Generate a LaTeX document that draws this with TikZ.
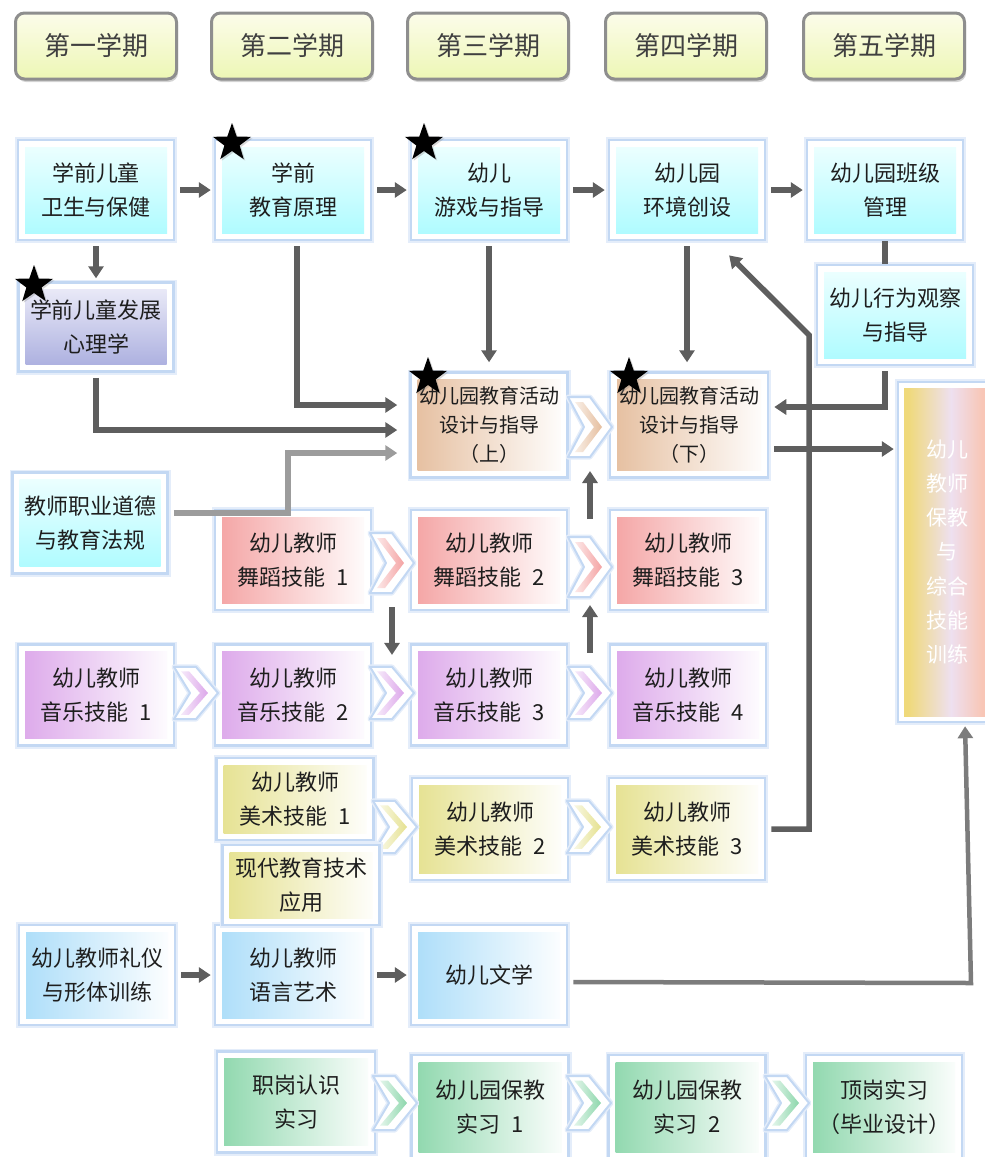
\documentclass[tikz,border=0pt]{standalone}
\usepackage{fontspec}
\newfontfamily\cjk{Noto Sans CJK SC}
\usetikzlibrary{arrows.meta,shapes.geometric,shadows}

\definecolor{glow}{HTML}{C3D8F3}
\definecolor{arrowgray}{HTML}{5E5E5E}
\definecolor{lightarrow}{HTML}{9C9C9C}
\definecolor{litgray}{HTML}{7C7C7C}
\definecolor{hdrline}{HTML}{8E8E8E}
\definecolor{hdrtop}{HTML}{FCFCEA}
\definecolor{hdrbot}{HTML}{EDF7B5}
\definecolor{cyantop}{HTML}{F0FFFF}
\definecolor{cyanbot}{HTML}{ABFBFF}
\definecolor{psytop}{HTML}{EEEEF9}
\definecolor{psybot}{HTML}{A8ACDE}
\definecolor{actcol}{HTML}{E5BE9E}
\definecolor{dancecol}{HTML}{F4A3A3}
\definecolor{musiccol}{HTML}{DCA7EA}
\definecolor{artcol}{HTML}{E5E18F}
\definecolor{langcol}{HTML}{ABDDF9}
\definecolor{praccol}{HTML}{8DD7AC}
\definecolor{barY}{HTML}{EFD97A}
\definecolor{barL}{HTML}{EEE0F0}
\definecolor{barP}{HTML}{F8C6B6}
\definecolor{txt}{HTML}{1E1E1E}

\pgfdeclarehorizontalshading{barshade}{100bp}{color(0bp)=(barY); color(30bp)=(barY); color(52bp)=(barL); color(68bp)=(barP); color(100bp)=(barP)}

\tikzset{
  course/.style={draw=glow, line width=2.5pt, fill=white, inner sep=0pt,
    minimum width=156pt, minimum height=100pt, align=center, text=txt,
    font=\cjk\fontsize{22}{34}\selectfont,
    drop shadow={shadow xshift=1.5pt, shadow yshift=-3pt, opacity=.35},
    preaction={draw=glow!45, line width=6pt}},
  hcourse/.style={course, path picture={\shade[left color=#1, right color=white]
    ([shift={(7pt,-7pt)}]path picture bounding box.north west) rectangle
    ([shift={(-7pt,7pt)}]path picture bounding box.south east);}},
  vcourse/.style 2 args={course, path picture={\shade[top color=#1, bottom color=#2]
    ([shift={(7pt,-7pt)}]path picture bounding box.north west) rectangle
    ([shift={(-7pt,7pt)}]path picture bounding box.south east);}},
  term/.style={draw=hdrline, line width=3pt, rounded corners=9pt,
    top color=hdrtop, bottom color=hdrbot, minimum width=161pt, minimum height=66pt,
    text=txt!85, font=\cjk\fontsize{26}{30}\selectfont,
    drop shadow={shadow xshift=1.5pt, shadow yshift=-3pt, opacity=.35}},
  starmark/.style={star, star points=5, star point ratio=2.5, fill=black,
    minimum size=40pt, inner sep=0pt,
    drop shadow={shadow xshift=1.5pt, shadow yshift=-1.5pt, opacity=.3}},
  arr/.style={draw=arrowgray, line width=5.5pt, -{Triangle[width=15pt,length=12pt]},
    shorten <=5pt, shorten >=3pt},
  link/.style={draw=arrowgray, line width=5.5pt},
  pics/chevron/.style={code={
    \path[draw=glow!45, line width=5pt, line join=round]
      (-22,-30) -- (0,-30) -- (22,0) -- (0,30) -- (-22,30) -- (-6,0) -- cycle;
    \path[fill=white, draw=glow, line width=2pt, line join=round]
      (-22,-30) -- (0,-30) -- (22,0) -- (0,30) -- (-22,30) -- (-6,0) -- cycle;
    \shade[left color=#1!25, right color=#1]
      (-15,-25) -- (-7,-25) -- (12,0) -- (-7,25) -- (-15,25) -- (4,0) -- cycle;
    \coordinate (-n) at (0,-30);
    \coordinate (-s) at (0,30);
  }}
}

\begin{document}
\begin{tikzpicture}[x=1pt,y=-1pt]
\useasboundingbox (0,0) rectangle (985,1157);

%draw the terms
\node [term] (t1) at (96,46) {第一学期};
\node [term] (t2) at (292,46) {第二学期};
\node [term] (t3) at (488,46) {第三学期};
\node [term] (t4) at (686,46) {第四学期};
\node [term] (t5) at (884,46) {第五学期};

%draw the theory courses
\node [vcourse={cyantop}{cyanbot}] (hyg) at (96,190) {学前儿童\\卫生与保健};
\node [vcourse={cyantop}{cyanbot}] (edu) at (293,190) {学前\\教育原理};
\node [vcourse={cyantop}{cyanbot}] (game) at (489,190) {幼儿\\游戏与指导};
\node [vcourse={cyantop}{cyanbot}] (env) at (687,190) {幼儿园\\环境创设};
\node [vcourse={cyantop}{cyanbot}] (cls) at (885,190) {幼儿园班级\\管理};
\node [vcourse={psytop}{psybot}, minimum width=155pt, minimum height=89pt] (psy) at (96,327) {学前儿童发展\\心理学};
\node [vcourse={cyantop}{cyanbot}] (obs) at (895,315) {幼儿行为观察\\与指导};
\node [vcourse={cyantop}{cyanbot}, minimum width=155pt, minimum height=101pt] (ethic) at (90,523) {教师职业道德\\与教育法规};

%draw the activity design courses
\node [hcourse=actcol, minimum width=157pt, minimum height=105pt,
  font=\cjk\fontsize{20}{29}\selectfont] (actA) at (489,425) {幼儿园教育活动\\设计与指导\\（上）};
\node [hcourse=actcol, minimum width=158pt, minimum height=105pt,
  font=\cjk\fontsize{20}{29}\selectfont] (actB) at (689,425) {幼儿园教育活动\\设计与指导\\（下）};
\pic (ca) at (590,427) {chevron=actcol};

%draw the final training bar
\node [draw=glow, line width=2.5pt, fill=white, inner sep=0pt, minimum width=98pt,
  minimum height=340pt, align=center, text=white, font=\cjk\fontsize{21}{34.3}\selectfont,
  drop shadow={shadow xshift=1.5pt, shadow yshift=-3pt, opacity=.35},
  preaction={draw=glow!45, line width=6pt},
  path picture={\shade[shading=barshade]
    ([shift={(6pt,-6pt)}]path picture bounding box.north west) rectangle
    ([shift={(-6pt,6pt)}]path picture bounding box.south east);}]
  (bar) at (947,552) {幼儿\\教师\\保教\\与\\综合\\技能\\训练};

%draw the skill rows
\node [hcourse=dancecol] (dance1) at (293,560) {幼儿教师\\舞蹈技能\enspace1};
\node [hcourse=dancecol] (dance2) at (489,560) {幼儿教师\\舞蹈技能\enspace2};
\node [hcourse=dancecol] (dance3) at (688,560) {幼儿教师\\舞蹈技能\enspace3};
\pic (dc12) at (392,563) {chevron=dancecol};
\pic (dc23) at (590,567) {chevron=dancecol};

\node [hcourse=musiccol, minimum height=101pt] (music1) at (96,695) {幼儿教师\\音乐技能\enspace1};
\node [hcourse=musiccol, minimum height=101pt] (music2) at (293,695) {幼儿教师\\音乐技能\enspace2};
\node [hcourse=musiccol, minimum height=101pt] (music3) at (489,695) {幼儿教师\\音乐技能\enspace3};
\node [hcourse=musiccol, minimum height=101pt] (music4) at (688,695) {幼儿教师\\音乐技能\enspace4};
\pic [yscale=.87] (mc12) at (196,693) {chevron=musiccol};
\pic [yscale=.87] (mc23) at (392,693) {chevron=musiccol};
\pic [yscale=.87] (mc34) at (590,693) {chevron=musiccol};

\node [hcourse=artcol, minimum width=157pt, minimum height=82pt] (art1) at (295,799) {幼儿教师\\美术技能\enspace1};
\node [hcourse=artcol, minimum height=102pt] (art2) at (490,829) {幼儿教师\\美术技能\enspace2};
\node [hcourse=artcol, minimum height=102pt] (art3) at (687,829) {幼儿教师\\美术技能\enspace3};
\pic [yscale=.87] (ac12) at (395,827) {chevron=artcol};
\pic [yscale=.87] (ac23) at (589,827) {chevron=artcol};

\node [hcourse=langcol] (eti) at (97,975) {幼儿教师礼仪\\与形体训练};
\node [hcourse=langcol] (speech) at (293,975) {幼儿教师\\语言艺术};
\node [hcourse=langcol] (lit) at (489,975) {幼儿文学};
\node [hcourse=artcol, minimum width=157pt, minimum height=80pt] (tech) at (301,885) {现代教育技术\\应用};

%draw the practice row
\node [hcourse=praccol, minimum width=158pt, minimum height=101pt] (job) at (296,1102) {职岗认识\\实习};
\node [hcourse=praccol, minimum width=157pt, minimum height=104pt] (prac1) at (490,1107) {幼儿园保教\\实习\enspace1};
\node [hcourse=praccol, minimum width=157pt, minimum height=104pt] (prac2) at (687,1107) {幼儿园保教\\实习\enspace2};
\node [hcourse=praccol, minimum width=156pt, minimum height=104pt] (final) at (884,1107) {顶岗实习\\（毕业设计）};
\pic [yscale=.9] (pc12) at (395,1103) {chevron=praccol};
\pic [yscale=.9] (pc23) at (589,1103) {chevron=praccol};
\pic [yscale=.9] (pc34) at (787,1103) {chevron=praccol};

%draw the core course stars
\node [starmark] (s1) at (232,143) {};
\node [starmark] (s2) at (424,143) {};
\node [starmark] (s3) at (34,285) {};
\node [starmark] (s4) at (428,377) {};
\node [starmark] (s5) at (629,377) {};

%draw the arrows
\coordinate (ethicbend) at (288,513);
\coordinate (artbend) at (809,335);
\coordinate (litbend) at (971,983);
\draw [arr] (hyg) -- (edu);
\draw [arr] (edu) -- (game);
\draw [arr] (game) -- (env);
\draw [arr] (env) -- (cls);
\draw [arr] (hyg) -- (psy);
\draw [arr] ([xshift=4pt]edu.south) |- ([xshift=-9pt,yshift=20pt]actA.west);
\draw [arr] (psy.south) |- ([xshift=-9pt,yshift=-5pt]actA.west);
\draw [arr, draw=lightarrow] ([yshift=10pt]ethic.east) -- (ethicbend) |- ([xshift=-9pt,yshift=-28pt]actA.west);
\draw [arr, shorten >=9pt] (game) -- (actA);
\draw [arr, shorten >=9pt] (env.south) -- (env.south |- actB.north);
\draw [link] (cls.south) -- (cls.south |- obs.north);
\draw [arr] (cls.south |- obs.south) |- ([xshift=2pt,yshift=18pt]actB.east);
\draw [arr] ([yshift=-24pt]actB.east) -- ([yshift=-24pt]actB.east -| bar.west);
\draw [arr] (art3.east) -| (artbend) -- ([xshift=40pt,yshift=-12pt]env.south);
\draw [arr, draw=litgray, line width=4.5pt] ([yshift=-7pt]lit.east) -- (litbend) -- ([xshift=18pt]bar.south);
\draw [arr] (eti) -- (speech);
\draw [arr] (speech) -- (lit);
\draw [arr, shorten <=18pt, shorten >=14pt] (dc23-n) -- (ca-s);
\draw [arr, shorten <=14pt, shorten >=8pt] (mc34-n) -- (dc23-s);
\draw [arr, shorten <=14pt, shorten >=12pt] (dc12-s) -- (mc23-n);

\end{tikzpicture}
\end{document}
